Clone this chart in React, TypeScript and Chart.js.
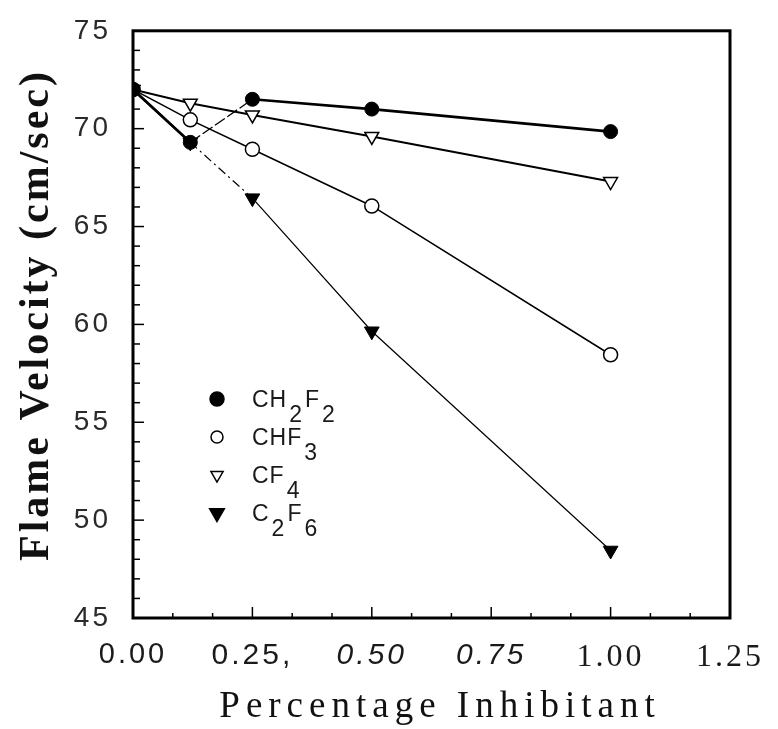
import { useEffect, useRef } from "react";
import { Chart, registerables } from "chart.js";

Chart.register(...registerables);

// ---- data ----
const xValues = [0, 0.12, 0.25, 0.5, 1.0];
const ch2f2 = [72.0, 69.3, 71.5, 71.0, 69.85];
const chf3 = [72.0, 70.45, 68.95, 66.05, 58.45];
const cf4 = [72.0, 71.3, 70.7, 69.6, 67.3];
const c2f6 = [72.0, 69.3, 66.45, 59.65, 48.45];
const xTickLabels = ["0.00", "0.25,", "0.50", "0.75", "1.00", "1.25"];
const yTitle = "Flame Velocity (cm/sec)";
const xTitle = "Percentage Inhibitant";
// legend labels: [text, isSubscript]
const legendLabels: [string, boolean][][] = [
  [["CH", false], ["2", true], ["F", false], ["2", true]],
  [["CHF", false], ["3", true]],
  [["CF", false], ["4", true]],
  [["C", false], ["2", true], ["F", false], ["6", true]],
];
const legendMarkers = [
  { style: "circle", filled: true, r: 7 },
  { style: "circle", filled: false, r: 6 },
  { style: "triangle", filled: false, r: 7 },
  { style: "triangle", filled: true, r: 8.5 },
];

const toPoints = (ys: number[]) => xValues.map((x, i) => ({ x, y: ys[i] }));

function drawMarker(ctx: CanvasRenderingContext2D, style: string, filled: boolean, r: number, x: number, y: number) {
  ctx.save();
  ctx.beginPath();
  if (style === "circle") {
    ctx.arc(x, y, r, 0, Math.PI * 2);
  } else {
    for (let k = 0; k < 3; k++) {
      const a = Math.PI + (k * 2 * Math.PI) / 3;
      const px = x + Math.sin(a) * r;
      const py = y - Math.cos(a) * r;
      if (k === 0) ctx.moveTo(px, py);
      else ctx.lineTo(px, py);
    }
    ctx.closePath();
  }
  ctx.fillStyle = filled ? "#000" : "#fff";
  ctx.fill();
  ctx.lineWidth = 1.5;
  ctx.strokeStyle = "#000";
  ctx.stroke();
  ctx.restore();
}

const decorPlugin = {
  id: "decor",
  beforeDraw(chart: any) {
    chart.ctx.letterSpacing = "3px";
  },
  afterDraw(chart: any) {
    const ctx: CanvasRenderingContext2D = chart.ctx;
    const { left, right, top, bottom } = chart.chartArea;
    const xs = chart.scales.x;
    const ys = chart.scales.y;
    ctx.save();
    ctx.letterSpacing = "0px";
    // inner tick marks
    ctx.strokeStyle = "#000";
    ctx.lineWidth = 1.5;
    for (let v = 45; v <= 75; v++) {
      const py = ys.getPixelForValue(v);
      const len = v % 5 === 0 ? 11 : 7;
      ctx.beginPath();
      ctx.moveTo(left, py);
      ctx.lineTo(left + len, py);
      ctx.stroke();
    }
    for (let k = 0; k <= 15; k++) {
      const px = xs.getPixelForValue(k / 12);
      const len = k % 3 === 0 ? 11 : 5;
      ctx.beginPath();
      ctx.moveTo(px, bottom);
      ctx.lineTo(px, bottom - len);
      ctx.stroke();
    }
    // frame
    ctx.lineWidth = 3;
    ctx.strokeRect(left, top, right - left, bottom - top);

    // legend
    const lx = 217;
    const rows = [399, 437, 475, 513];
    ctx.font = '23px "Liberation Sans"';
    ctx.fillStyle = "#1a1a1a";
    ctx.textBaseline = "alphabetic";
    ctx.textAlign = "left";
    ctx.letterSpacing = "1px";
    rows.forEach((ry, i) => {
      const m = legendMarkers[i];
      drawMarker(ctx, m.style, m.filled, m.r, lx, ry);
      let tx = 252;
      legendLabels[i].forEach(([t, sub]) => {
        ctx.fillText(t, tx, ry + 8 + (sub ? 15 : 0));
        tx += ctx.measureText(t).width + 2;
      });
    });

    // axis titles
    ctx.fillStyle = "#111";
    ctx.textAlign = "center";
    ctx.letterSpacing = "3px";
    ctx.save();
    ctx.translate(48, 315);
    ctx.rotate(-Math.PI / 2);
    ctx.font = 'bold 42px "Liberation Serif"';
    ctx.fillText(yTitle, 0, 0);
    ctx.restore();

    ctx.letterSpacing = "6px";
    ctx.font = '37px "Liberation Serif"';
    ctx.fillText(xTitle, 440, 717);
    ctx.restore();
  },
};

const xTickFonts = [
  { family: '"Liberation Sans"', size: 29, style: "normal" },
  { family: '"Liberation Sans"', size: 30, style: "normal" },
  { family: '"Liberation Sans"', size: 30, style: "italic" },
  { family: '"Liberation Sans"', size: 30, style: "italic" },
  { family: '"Liberation Serif"', size: 32, style: "normal" },
  { family: '"Liberation Serif"', size: 32, style: "normal" },
];

export default function App() {
  const ref = useRef<HTMLCanvasElement | null>(null);
  useEffect(() => {
    if (!ref.current) return;
    const chart = new Chart(ref.current, {
      type: "scatter",
      data: {
        datasets: [
          {
            label: "CH2F2",
            data: toPoints(ch2f2),
            showLine: true,
            borderColor: "#000",
            borderWidth: 2.6,
            pointStyle: "circle",
            pointRadius: 7,
            pointBackgroundColor: "#000",
            pointBorderColor: "#000",
            pointBorderWidth: 1,
            segment: {
              borderWidth: (c: any) => (c.p0DataIndex === 1 ? 1.3 : undefined),
              borderDash: (c: any) => (c.p0DataIndex === 1 ? [12, 3] : undefined),
            },
          },
          {
            label: "CHF3",
            data: toPoints(chf3),
            showLine: true,
            borderColor: "#000",
            borderWidth: 1.5,
            pointStyle: "circle",
            pointRadius: 7,
            pointBackgroundColor: "#fff",
            pointBorderColor: "#000",
            pointBorderWidth: 1.5,
          },
          {
            label: "CF4",
            data: toPoints(cf4),
            showLine: true,
            borderColor: "#000",
            borderWidth: 2,
            pointStyle: "triangle",
            pointRotation: 180,
            pointRadius: 8,
            pointBackgroundColor: "#fff",
            pointBorderColor: "#000",
            pointBorderWidth: 1.5,
          },
          {
            label: "C2F6",
            data: toPoints(c2f6),
            showLine: true,
            borderColor: "#000",
            borderWidth: 1.2,
            pointStyle: "triangle",
            pointRotation: 180,
            pointRadius: 8.5,
            pointBackgroundColor: "#000",
            pointBorderColor: "#000",
            pointBorderWidth: 1,
            segment: {
              borderWidth: (c: any) => (c.p0DataIndex === 0 ? 2.4 : undefined),
              borderDash: (c: any) => (c.p0DataIndex === 1 ? [9, 4, 2, 4] : undefined),
            },
          },
        ],
      },
      options: {
        animation: false,
        responsive: false,
        events: [],
        layout: { padding: { top: 24, right: 48, bottom: 0, left: 0 } },
        plugins: {
          legend: { display: false },
          tooltip: { enabled: false },
          title: { display: false },
        },
        scales: {
          x: {
            type: "linear",
            min: 0,
            max: 1.25,
            grid: { display: false },
            border: { display: false },
            afterFit: (s: any) => {
              s.height = 111;
            },
            afterBuildTicks: (s: any) => {
              s.ticks = xTickLabels.map((_, i) => ({ value: i * 0.25 }));
            },
            ticks: {
              padding: 12,
              color: "#1a1a1a",
              maxRotation: 0,
              autoSkip: false,
              font: (c: any) => xTickFonts[c.index] || xTickFonts[0],
              callback: (_v: any, i: number) => xTickLabels[i],
            },
          },
          y: {
            type: "linear",
            min: 45,
            max: 75,
            grid: { display: false },
            border: { display: false },
            afterFit: (s: any) => {
              s.width = 133;
            },
            ticks: {
              stepSize: 5,
              padding: 14,
              color: "#2a2a2a",
              font: { family: '"Liberation Sans"', size: 28 },
            },
          },
        },
      },
      plugins: [decorPlugin],
    });
    return () => chart.destroy();
  }, []);
  return (
    <div style={{ position: "fixed", left: 0, top: 0, width: 778, height: 729, background: "#fff" }}>
      <canvas ref={ref} width={778} height={729} style={{ width: 778, height: 729, display: "block" }} />
    </div>
  );
}
